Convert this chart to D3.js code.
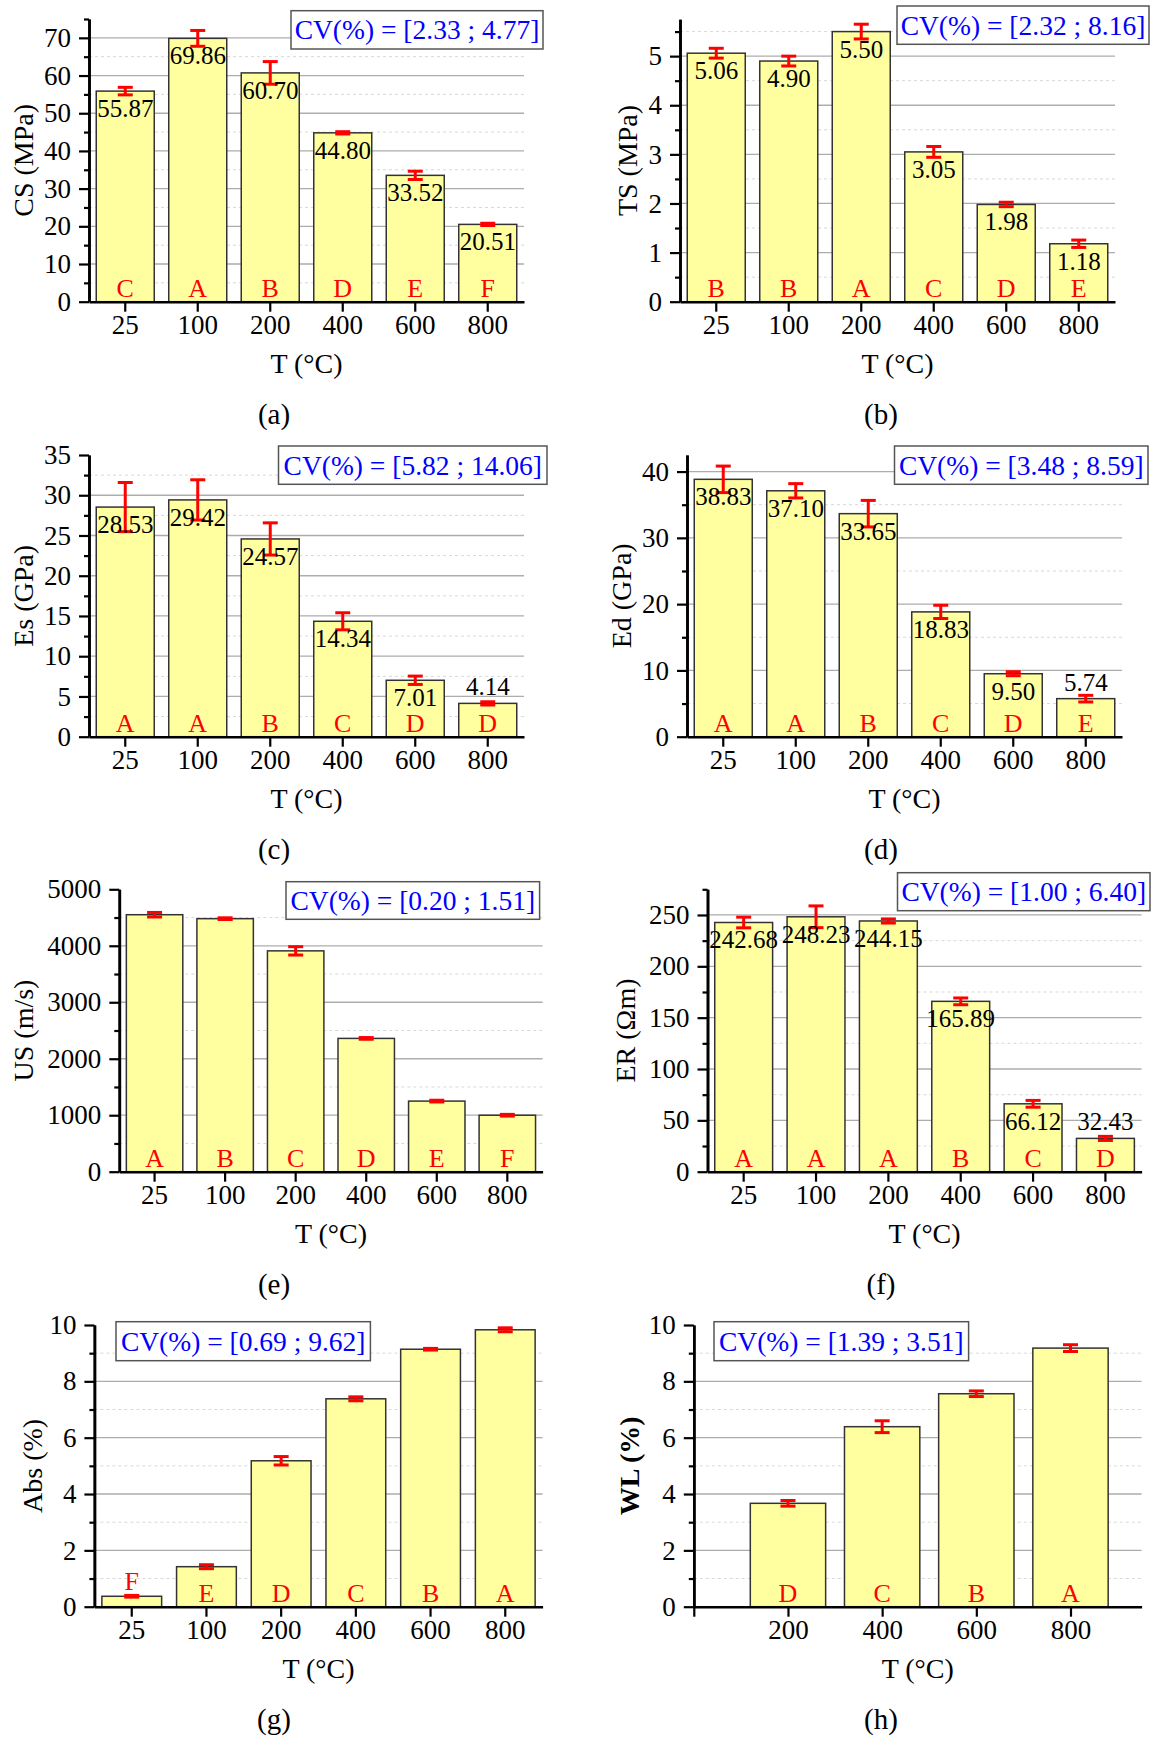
<!DOCTYPE html>
<html>
<head>
<meta charset="utf-8">
<style>
  body { margin: 0; background: #fff; }
  svg text { font-family: "Liberation Serif", "Times New Roman", serif; }
</style>
<title>Properties vs temperature</title>
</head>
<body>
<script src="https://cdn.jsdelivr.net/npm/d3@7/dist/d3.min.js"></script>
<script>

// ---- data ----
var temps = ["25", "100", "200", "400", "600", "800"];
var wlTemps = [200, 400, 600, 800];

var csVals = [55.87, 69.86, 60.70, 44.80, 33.52, 20.51];
var csErr = [1.0, 2.1, 3.0, 0.3, 1.1, 0.3];
var csGroups = ["C", "A", "B", "D", "E", "F"];

var tsVals = [5.06, 4.90, 5.50, 3.05, 1.98, 1.18];
var tsErr = [0.10, 0.10, 0.15, 0.11, 0.045, 0.075];
var tsGroups = ["B", "B", "A", "C", "D", "E"];

var esVals = [28.53, 29.42, 24.57, 14.34, 7.01, 4.14];
var esErr = [3.05, 2.5, 2.0, 1.06, 0.52, 0.2];
var esGroups = ["A", "A", "B", "C", "D", "D"];

var edVals = [38.83, 37.10, 33.65, 18.83, 9.50, 5.74];
var edErr = [2.0, 1.08, 2.0, 1.0, 0.3, 0.5];
var edGroups = ["A", "A", "B", "C", "D", "E"];

var usVals = [4550, 4480, 3910, 2360, 1250, 1000];
var usErr = [40, 15, 74, 15, 15, 15];
var usGroups = ["A", "B", "C", "D", "E", "F"];

var erVals = [242.68, 248.23, 244.15, 165.89, 66.12, 32.43];
var erErr = [5.2, 10.6, 2.0, 3.3, 3.3, 2.0];
var erGroups = ["A", "A", "A", "B", "C", "D"];

var absVals = [0.37, 1.42, 5.18, 7.38, 9.14, 9.83];
var absErr = [0.03, 0.07, 0.15, 0.07, 0.03, 0.07];
var absGroups = ["F", "E", "D", "C", "B", "A"];

var wlVals = [3.67, 6.39, 7.56, 9.18];
var wlErr = [0.1, 0.21, 0.1, 0.12];
var wlGroups = ["D", "C", "B", "A"];

var cvTexts = ["CV(%) = [2.33 ; 4.77]", "CV(%) = [2.32 ; 8.16]", "CV(%) = [5.82 ; 14.06]",
               "CV(%) = [3.48 ; 8.59]", "CV(%) = [0.20 ; 1.51]", "CV(%) = [1.00 ; 6.40]",
               "CV(%) = [0.69 ; 9.62]", "CV(%) = [1.39 ; 3.51]"];
var yTitles = ["CS (MPa)", "TS (MPa)", "Es (GPa)", "Ed (GPa)", "US (m/s)", "ER (\u03A9m)", "Abs (%)", "WL (%)"];
var panelTags = ["(a)", "(b)", "(c)", "(d)", "(e)", "(f)", "(g)", "(h)"];

// ---- layout ----
var W = 1153, H = 1737;
var svg = d3.select("body").append("svg").attr("width", W).attr("height", H);

var panels = [
  {vals: csVals, err: csErr, grp: csGroups, showVals: true, ymax: 75, major: 10,
   left: 89, right: 524, top: 19, bottom: 301.7, titleX: 24, tagX: 274, box: [291, 10.7, 252, 38.3]},
  {vals: tsVals, err: tsErr, grp: tsGroups, showVals: true, ymax: 5.75, major: 1,
   left: 680, right: 1115, top: 19.3, bottom: 301.7, titleX: 628, tagX: 881, box: [897, 6, 252, 38.3]},
  {vals: esVals, err: esErr, grp: esGroups, showVals: true, ymax: 35, major: 5,
   left: 89, right: 524, top: 455, bottom: 736.7, titleX: 24, tagX: 274, box: [278.5, 446, 268.5, 38.3]},
  {vals: edVals, err: edErr, grp: edGroups, showVals: true, ymax: 42.5, major: 10,
   left: 687, right: 1122, top: 455, bottom: 736.7, titleX: 622, tagX: 881, box: [894.5, 446, 253.5, 38.3]},
  {vals: usVals, err: usErr, grp: usGroups, showVals: false, ymax: 5000, major: 1000,
   left: 119.3, right: 542.6, top: 889.3, bottom: 1171.7, titleX: 24, tagX: 274, box: [286, 881.7, 253.6, 37.6]},
  {vals: erVals, err: erErr, grp: erGroups, showVals: true, ymax: 275, major: 50,
   left: 707.5, right: 1141.6, top: 889.3, bottom: 1171.7, titleX: 626, tagX: 881, box: [897.5, 872.7, 252.5, 38]},
  {vals: absVals, err: absErr, grp: absGroups, showVals: false, ymax: 10, major: 2,
   left: 94.4, right: 542.6, top: 1325, bottom: 1606.7, titleX: 33, tagX: 274, box: [116, 1321.7, 254.4, 39]},
  {vals: wlVals, err: wlErr, grp: wlGroups, showVals: false, ymax: 10, major: 2, linearX: true, boldTitle: true,
   left: 693.8, right: 1141.6, top: 1325, bottom: 1606.7, titleX: 630, tagX: 881, box: [714, 1321.7, 254.6, 39]}
];

panels.forEach(function(p, i) { drawPanel(p, i); });

function drawPanel(p, i) {
  var g = svg.append("g");
  var eps = 1e-9;

  var y = d3.scaleLinear().domain([0, p.ymax]).range([p.bottom, p.top]);
  var x, cx, bw, cats;
  if (p.linearX) {
    x = d3.scaleLinear().domain([0, 951]).range([p.left, p.right]);
    cats = wlTemps;
    cx = function(d, j) { return x(cats[j]); };
    bw = x(160) - x(0);
  } else {
    cats = temps;
    x = d3.scaleBand().domain(cats).range([p.left, p.right]).paddingInner(0.2).paddingOuter(0.1);
    cx = function(d, j) { return x(cats[j]) + x.bandwidth() / 2; };
    bw = x.bandwidth();
  }

  var majors = d3.range(0, p.ymax + eps, p.major);
  var minors = d3.range(p.major / 2, p.ymax + eps, p.major);

  // gridlines
  g.selectAll(".gmaj").data(majors.filter(function(v) { return v > 0 && v < p.ymax - eps; }))
    .enter().append("line")
    .attr("x1", p.left).attr("x2", p.right)
    .attr("y1", function(v) { return y(v); }).attr("y2", function(v) { return y(v); })
    .style("stroke", "#adadad").style("stroke-width", 1.3);
  g.selectAll(".gmin").data(minors.filter(function(v) { return v < p.ymax - eps; }))
    .enter().append("line")
    .attr("x1", p.left).attr("x2", p.right)
    .attr("y1", function(v) { return y(v); }).attr("y2", function(v) { return y(v); })
    .style("stroke", "#d8d8d8").style("stroke-width", 1).style("stroke-dasharray", "3,3");

  // bars
  g.selectAll(".bar").data(p.vals).enter().append("rect")
    .attr("x", function(d, j) { return cx(d, j) - bw / 2; })
    .attr("y", function(d) { return y(d); })
    .attr("width", bw)
    .attr("height", function(d) { return p.bottom - y(d); })
    .style("fill", "#ffffa0").style("stroke", "#333").style("stroke-width", 1.5);

  // error bars
  var eb = g.selectAll(".eb").data(p.vals).enter().append("g")
    .style("stroke", "#ff0000").style("stroke-width", 3);
  eb.append("line")
    .attr("x1", cx).attr("x2", cx)
    .attr("y1", function(d, j) { return y(d - p.err[j]); })
    .attr("y2", function(d, j) { return y(d + p.err[j]); });
  [-1, 1].forEach(function(s) {
    eb.append("line")
      .attr("x1", function(d, j) { return cx(d, j) - 7.5; })
      .attr("x2", function(d, j) { return cx(d, j) + 7.5; })
      .attr("y1", function(d, j) { return y(d + s * p.err[j]); })
      .attr("y2", function(d, j) { return y(d + s * p.err[j]); });
  });

  // value labels (inside the bar top, or above it when the bar is short)
  if (p.showVals) {
    g.selectAll(".val").data(p.vals).enter().append("text")
      .attr("x", cx)
      .attr("y", function(d) { return (p.bottom - y(d)) > 45 ? y(d) + 26 : y(d) - 8; })
      .attr("text-anchor", "middle")
      .style("font-size", "25px").style("fill", "#000")
      .text(function(d) { return d3.format(".2f")(d); });
  }

  // group letters at the bar foot, above the bar if it is too short
  g.selectAll(".grp").data(p.vals).enter().append("text")
    .attr("x", cx)
    .attr("y", function(d) { return (p.bottom - y(d)) < 22 ? y(d) - 6 : p.bottom - 5; })
    .attr("text-anchor", "middle")
    .style("font-size", "26px").style("fill", "#ff0000")
    .text(function(d, j) { return p.grp[j]; });

  // axes
  var yAxis = d3.axisLeft(y).tickValues(majors).tickSize(10).tickSizeOuter(0).tickPadding(8)
    .tickFormat(d3.format("~g"));
  var yMinor = d3.axisLeft(y).tickValues(minors).tickSize(5).tickSizeOuter(0).tickFormat("");
  var xAxis;
  if (p.linearX) {
    xAxis = d3.axisBottom(x).tickValues([0].concat(wlTemps)).tickSize(10).tickSizeOuter(0).tickPadding(3)
      .tickFormat(function(v) { return v === 0 ? "" : v; });
  } else {
    xAxis = d3.axisBottom(x).tickSize(10).tickSizeOuter(0).tickPadding(3);
  }

  var ay2 = g.append("g").attr("transform", "translate(" + p.left + ",0)").call(yMinor);
  var ay = g.append("g").attr("transform", "translate(" + p.left + ",0)").call(yAxis);
  var ax = g.append("g").attr("transform", "translate(0," + p.bottom + ")").call(xAxis);
  [ay, ay2, ax].forEach(function(a) {
    a.select(".domain").style("stroke", "#000").style("stroke-width", 2.6);
    a.selectAll(".tick line").style("stroke", "#000").style("stroke-width", 2.2);
    a.selectAll("text").style("font-size", "27px").style("fill", "#000")
      .style("font-family", "'Liberation Serif', 'Times New Roman', serif");
  });

  // titles
  g.append("text")
    .attr("x", (p.left + p.right) / 2).attr("y", p.bottom + 71)
    .attr("text-anchor", "middle").style("font-size", "28px")
    .text("T (\u00B0C)");
  g.append("text")
    .attr("transform", "translate(" + p.titleX + "," + (p.top + p.bottom) / 2 + ") rotate(-90)")
    .attr("text-anchor", "middle").attr("dy", "0.33em").style("font-size", "28px")
    .style("font-weight", p.boldTitle ? "bold" : "normal")
    .text(yTitles[i]);
  g.append("text")
    .attr("x", p.tagX).attr("y", p.bottom + 122)
    .attr("text-anchor", "middle").style("font-size", "29px")
    .text(panelTags[i]);

  // CV box
  var b = p.box;
  g.append("rect").attr("x", b[0]).attr("y", b[1]).attr("width", b[2]).attr("height", b[3])
    .style("fill", "#fff").style("stroke", "#555").style("stroke-width", 1.5);
  g.append("text")
    .attr("x", b[0] + b[2] / 2).attr("y", b[1] + b[3] / 2).attr("dy", "0.35em")
    .attr("text-anchor", "middle").style("font-size", "27.5px").style("fill", "#0000ff")
    .text(cvTexts[i]);
}

</script>
</body>
</html>
